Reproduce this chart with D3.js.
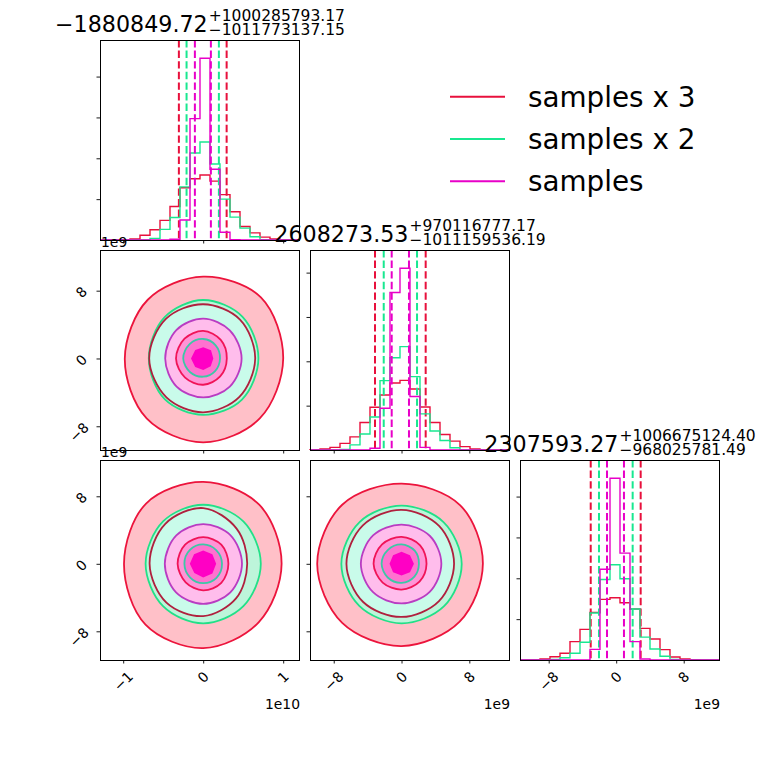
<!DOCTYPE html>
<html><head><meta charset="utf-8">
<script src="https://cdn.jsdelivr.net/npm/d3@7/dist/d3.min.js"></script>
<style>body{margin:0;background:#fff} text{font-family:"DejaVu Sans",sans-serif;fill:#000}</style>
</head><body><svg id="c" width="760" height="760"></svg>
<script>
// ---------------- data ----------------
const seriesNames = ["samples x 3", "samples x 2", "samples"];
// parameter ranges (units of 1e9)
const paramDomains = [[-12.9, 12.1], [-10.8, 12.8], [-11.4, 12.3]];
const tickValues = [[-10, 0, 10], [-8, 0, 8], [-8, 0, 8]];
const tickLabels = [["\u22121", "0", "1"], ["\u22128", "0", "8"], ["\u22128", "0", "8"]];
const offsetLabels = ["1e10", "1e9", "1e9"];
const countTicks = [1000, 2000, 3000, 4000];
// histogram counts, 20 bins, per parameter: [samples x 3, samples x 2, samples]
const hist0 = [
  [0, 0, 8, 25, 115, 250, 480, 820, 1280, 1500, 1590, 1440, 1110, 690, 330, 175, 70, 25, 0, 0],
  [0, 0, 0, 0, 0, 40, 260, 550, 1300, 2130, 2400, 1860, 1000, 560, 290, 80, 10, 0, 0, 0],
  [0, 0, 0, 0, 0, 0, 0, 20, 490, 2970, 4450, 1730, 190, 10, 0, 0, 0, 0, 0, 0]
];
const hist1 = [
  [5, 23, 60, 150, 295, 620, 965, 1240, 1510, 1570, 1375, 970, 620, 350, 200, 75, 23, 5, 0, 0],
  [0, 0, 0, 15, 115, 360, 745, 1565, 2080, 2330, 1655, 815, 430, 215, 50, 0, 0, 0, 0, 0],
  [0, 0, 0, 0, 0, 0, 40, 940, 3550, 4100, 1205, 60, 0, 0, 0, 0, 0, 0, 0, 0]
];
const hist2 = [
  [0, 8, 25, 80, 165, 450, 750, 1165, 1485, 1525, 1400, 1250, 775, 515, 255, 75, 25, 8, 0, 0],
  [0, 0, 0, 15, 55, 165, 435, 1150, 1970, 2330, 1990, 1250, 560, 270, 90, 12, 0, 0, 0, 0],
  [0, 0, 0, 0, 0, 0, 0, 260, 2220, 4450, 2615, 450, 25, 0, 0, 0, 0, 0, 0, 0]
];
// 16th / 84th percentile lines (units of 1e9)
const quantLow = [[-3.04, -2.08, -1.04], [-3.13, -2.10, -1.16], [-3.02, -2.04, -1.09]];
const quantHigh = [[2.93, 1.96, 0.96], [2.85, 1.83, 0.88], [2.90, 1.95, 0.92]];
// titles (median of "samples" with +/- errors)
const titleMain = ["\u22121880849.72", "2608273.53", "2307593.27"];
const titlePlus = ["+1000285793.17", "+970116777.17", "+1006675124.40"];
const titleMinus = ["\u22121011773137.15", "\u22121011159536.19", "\u2212968025781.49"];
// 2D contour radii (units of 1e9) at 8 directions: 0,45,...,315 deg
// order: outer x3, outer x2, mid x3, mid samples, inner x3, inner x2, core samples
const contours10 = [
  [10.0, 10.2, 9.65, 9.8, 9.8, 10.0, 9.9, 10.0],
  [6.9, 6.95, 6.9, 6.85, 6.8, 6.8, 6.65, 6.85],
  [6.5, 6.5, 6.4, 6.6, 6.75, 6.5, 6.35, 6.4],
  [4.8, 4.7, 4.7, 4.75, 4.75, 4.7, 4.6, 4.7],
  [2.95, 3.1, 3.25, 3.3, 3.4, 3.2, 3.1, 3.0],
  [2.1, 2.2, 2.3, 2.4, 2.5, 2.3, 2.15, 2.1],
  [1.15, 1.25, 1.2, 1.3, 1.4, 1.3, 1.25, 1.2]
];
const contours20 = [
  [9.8, 9.9, 9.7, 10.1, 9.9, 10.2, 10.0, 9.8],
  [7.2, 7.1, 7.0, 7.1, 7.2, 7.1, 7.05, 7.1],
  [5.5, 5.9, 6.6, 6.7, 6.7, 6.5, 6.2, 5.8],
  [4.85, 4.8, 4.7, 4.75, 4.8, 4.8, 4.75, 4.8],
  [3.15, 3.2, 3.15, 3.2, 3.2, 3.1, 3.15, 3.2],
  [2.35, 2.3, 2.3, 2.35, 2.35, 2.3, 2.3, 2.35],
  [1.5, 1.5, 1.45, 1.5, 1.55, 1.45, 1.5, 1.5]
];
const contours21 = [
  [9.6, 9.8, 9.5, 9.9, 9.95, 9.9, 9.75, 9.7],
  [7.1, 7.0, 6.9, 7.0, 7.1, 7.05, 7.05, 7.1],
  [6.2, 6.3, 6.4, 6.45, 6.5, 6.4, 6.3, 6.25],
  [4.7, 4.7, 4.65, 4.75, 4.8, 4.75, 4.7, 4.7],
  [2.95, 3.1, 3.2, 3.25, 3.3, 3.15, 3.05, 3.0],
  [2.05, 2.2, 2.3, 2.3, 2.35, 2.3, 2.25, 2.15],
  [1.35, 1.3, 1.3, 1.3, 1.3, 1.3, 1.27, 1.3]
];

// ---------------- styles ----------------
const seriesColors = ["#e8103c", "#18e890", "#e800c8"];
const contourFill = ["#ffc0c8", "#bdf5da", "#c9fbea", "#ffbdec", "#ff94d6", "#ff72cf", "#ff00c4"];
const contourStroke = ["#ec143c", "#22e088", "#b0203e", "#b93cc2", "#f01458", "#3cc8a6", "#ff00c4"];

const hists = [hist0, hist1, hist2];
const panels2d = [
  {row: 1, col: 0, radii: contours10},
  {row: 2, col: 0, radii: contours20},
  {row: 2, col: 1, radii: contours21}
];

const svg = d3.select("#c");
const size = 200, gap = 10, left0 = 100, top0 = 40;
const px = i => left0 + i * (size + gap);
const py = i => top0 + i * (size + gap);
const xS = paramDomains.map((d, i) => d3.scaleLinear().domain(d).range([px(i), px(i) + size]));
const yS = paramDomains.map((d, i) => d3.scaleLinear().domain(d).range([py(i) + size, py(i)]));

const tickLen = 3.5;
function bottomTicks(g, scale, vals, yPos) {
  g.append("g").attr("transform", `translate(0,${yPos})`)
    .call(d3.axisBottom(scale).tickValues(vals).tickSize(tickLen).tickSizeOuter(0).tickFormat(""))
    .call(a => a.select(".domain").remove())
    .call(a => a.selectAll("line").attr("stroke", "#000").attr("stroke-width", 0.9));
}
function leftTicks(g, scale, vals, xPos) {
  g.append("g").attr("transform", `translate(${xPos},0)`)
    .call(d3.axisLeft(scale).tickValues(vals).tickSize(tickLen).tickSizeOuter(0).tickFormat(""))
    .call(a => a.select(".domain").remove())
    .call(a => a.selectAll("line").attr("stroke", "#000").attr("stroke-width", 0.9));
}
function spine(g, x, y) {
  g.append("rect").attr("x", x + 0.5).attr("y", y + 0.5).attr("width", size - 1).attr("height", size)
    .attr("fill", "none").attr("stroke", "#000").attr("stroke-width", 1);
}

// ---------------- histograms ----------------
hists.forEach((hs, k) => {
  const g = svg.append("g");
  const x = xS[k];
  const maxC = d3.max(hs.flat());
  const y = d3.scaleLinear().domain([0, maxC * 1.1]).range([py(k) + size, py(k)]);
  const nb = hs[0].length;
  const d0 = paramDomains[k][0], bw = (paramDomains[k][1] - paramDomains[k][0]) / nb;
  const line = d3.line().x(d => x(d[0])).y(d => y(d[1]));
  hs.forEach((counts, s) => {
    const pts = [[d0, 0]];
    counts.forEach((c, i) => { pts.push([d0 + i * bw, c]); pts.push([d0 + (i + 1) * bw, c]); });
    pts.push([d0 + nb * bw, 0]);
    g.append("path").attr("d", line(pts)).attr("fill", "none")
      .attr("stroke", seriesColors[s]).attr("stroke-width", 1.4);
    [quantLow[k][s], quantHigh[k][s]].forEach(q => {
      g.append("line").attr("x1", x(q)).attr("x2", x(q)).attr("y1", py(k)).attr("y2", py(k) + size)
        .attr("stroke", seriesColors[s]).attr("stroke-width", 2).attr("stroke-dasharray", "7.4,3.2");
    });
  });
  bottomTicks(g, x, tickValues[k], py(k) + size);
  leftTicks(g, y, countTicks, px(k));
  spine(g, px(k), py(k));
});

// ---------------- 2D panels ----------------
const angles = d3.range(8).map(i => i * Math.PI / 4);
panels2d.forEach(p => {
  const g = svg.append("g");
  const x = xS[p.col], y = yS[p.row];
  p.radii.forEach((rs, li) => {
    const pts = rs.map((r, i) => [x(r * Math.cos(angles[i])), y(r * Math.sin(angles[i]))]);
    const curve = li === p.radii.length - 1 ? d3.curveLinearClosed : d3.curveCatmullRomClosed.alpha(0.5);
    g.append("path").attr("d", d3.line().curve(curve)(pts))
      .attr("fill", contourFill[li]).attr("stroke", contourStroke[li]).attr("stroke-width", 1.8);
  });
  bottomTicks(g, x, tickValues[p.col], py(p.row) + size);
  leftTicks(g, y, tickValues[p.row], px(p.col));
  spine(g, px(p.col), py(p.row));
});

// ---------------- tick labels ----------------
const lblSize = 13.9;
const bottomY = py(2) + size;
for (let c = 0; c < 3; c++) {
  tickValues[c].forEach((v, i) => {
    const t = svg.append("text").attr("font-size", lblSize).attr("text-anchor", "middle")
      .attr("dominant-baseline", "central").text(tickLabels[c][i]);
    const w = t.node().getComputedTextLength();
    const cx = xS[c](v), cy = bottomY + 10.5 + (w + 10) / 2.83;
    t.attr("x", cx).attr("y", cy).attr("transform", `rotate(-45,${cx},${cy})`);
  });
  svg.append("text").attr("font-size", lblSize).attr("text-anchor", "end")
    .attr("x", px(c) + size).attr("y", 709).text(offsetLabels[c]);
}
for (let r = 1; r < 3; r++) {
  tickValues[r].forEach((v, i) => {
    const t = svg.append("text").attr("font-size", lblSize).attr("text-anchor", "middle")
      .attr("dominant-baseline", "central").text(tickLabels[r][i]);
    const w = t.node().getComputedTextLength();
    const cx = px(0) - 16.8 - 0.21 * w, cy = yS[r](v) + 1.5 + 0.38 * (w - 8.8);
    t.attr("x", cx).attr("y", cy).attr("transform", `rotate(-45,${cx},${cy})`);
  });
  svg.append("text").attr("font-size", lblSize).attr("x", px(0) + 1).attr("y", py(r) - 3.5).text(offsetLabels[r]);
}

// ---------------- titles ----------------
for (let k = 0; k < 3; k++) {
  const g = svg.append("g");
  const top = py(k);
  const m = g.append("text").attr("font-size", 22.2).attr("y", top - 8.3).text(titleMain[k]);
  const sp = g.append("text").attr("font-size", 15.5).attr("y", top - 19.3).text(titlePlus[k]);
  const sb = g.append("text").attr("font-size", 15.5).attr("y", top - 5).text(titleMinus[k]);
  const wm = m.node().getComputedTextLength();
  const ws = Math.max(sp.node().getComputedTextLength(), sb.node().getComputedTextLength());
  const x0 = px(k) + size / 2 - (wm + 1 + ws) / 2;
  m.attr("x", x0); sp.attr("x", x0 + wm + 1); sb.attr("x", x0 + wm + 1);
}

// ---------------- legend ----------------
const leg = svg.append("g");
seriesNames.forEach((n, i) => {
  const ly = 96.7 + i * 42.3;
  leg.append("line").attr("x1", 450).attr("x2", 505).attr("y1", ly).attr("y2", ly)
    .attr("stroke", seriesColors[i]).attr("stroke-width", 2);
  leg.append("text").attr("x", 528).attr("y", ly + 10).attr("font-size", 27.8).text(n);
});
</script></body></html>
